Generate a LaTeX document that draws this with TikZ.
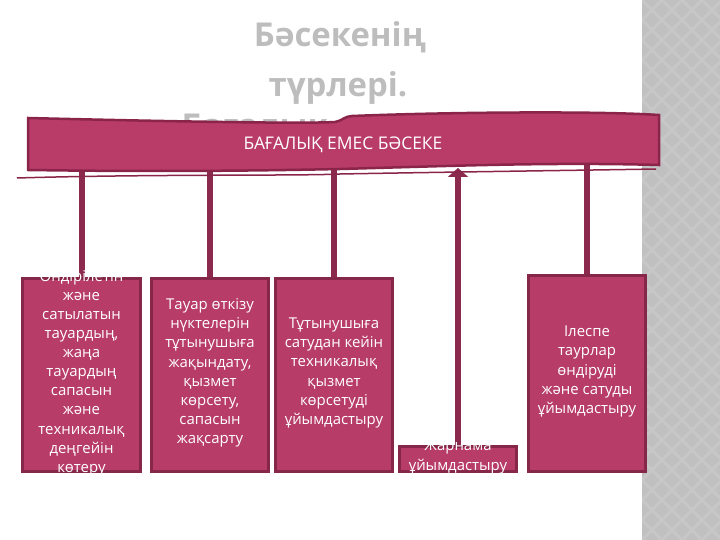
\documentclass[tikz,border=0pt]{standalone}
\usepackage{fontspec}
\setmainfont{Open Sans}
\usetikzlibrary{arrows.meta}
\definecolor{bandfill}{HTML}{B93C68}
\definecolor{bandedge}{HTML}{8A2449}
\definecolor{boxfill}{HTML}{B73C67}
\definecolor{boxedge}{HTML}{862648}
\definecolor{linkcol}{HTML}{8C2A4E}
\definecolor{titlegray}{HTML}{BDBDBD}
\definecolor{stripgray}{HTML}{C0C0C0}
\definecolor{stripdiam}{HTML}{C7C7C7}

\begin{document}
\begin{tikzpicture}[x=1bp, y=-1bp,
	box/.style={draw=boxedge, line width=3bp, fill=boxfill, minimum width=117bp, inner sep=0pt},
	boxtext/.style={white, font=\fontsize{15}{19.2}\selectfont, align=center, inner sep=0pt},
	headtext/.style={titlegray, font=\fontsize{33}{50}\selectfont\bfseries},
	link/.style={draw=linkcol, line width=6bp}]
	\useasboundingbox (0,0) rectangle (720,540);

	% grey strip on the right
	\fill[stripgray] (642,0) rectangle (720,540);
	\begin{scope}
		\clip (642,0) rectangle (720,540);
		\foreach \k in {-4,...,30}
		{
			\draw[stripdiam, line width=3bp] (642,\k*20) -- ++(80,80);
			\draw[stripdiam, line width=3bp] (642,\k*20) -- ++(80,-80);
		}
	\end{scope}

	% title
	\node[headtext, anchor=base] (title1) at (340,47) {Бәсекенің};
	\node[headtext, anchor=base] (title2) at (338,97) {түрлері.};
	\node[headtext, anchor=base west] (title3) at (178,138) {Бағалық};

	% boxes
	\node[box, minimum height=193bp] (b1) at (81.5,375) {};
	\node[box, minimum height=193bp] (b2) at (210,375) {};
	\node[box, minimum height=193bp] (b3) at (334,375) {};
	\node[box, minimum height=25bp] (b4) at (458,459) {};
	\node[box, minimum height=196bp] (b5) at (587,373.5) {};

	\coordinate (top) at (0,150);
	\coordinate (bb) at (0,168);

	% connectors
	\draw[link] (b1.north |- top) -- (b1.north);
	\draw[link] (b2.north |- top) -- (b2.north);
	\draw[link] (b3.north |- top) -- (b3.north);
	\draw[link] (b5.north |- top) -- (b5.north);
	\draw[link, -{Triangle[width=20bp, length=9bp]}] (b4.north) -- (b4.north |- bb);

	% banner
	\draw[bandedge, line width=1.5bp] (17,178) .. controls (150,174) and (300,176) .. (340,174)
		.. controls (450,172) and (600,170) .. (656,169);
	\draw[draw=bandedge, fill=bandfill, line width=2.5bp] (28,118) .. controls (150,121) and (300,124) .. (335,122)
		.. controls (342,121) and (345,116) .. (352,116)
		.. controls (450,112) and (600,111) .. (659,115) -- (659,165)
		.. controls (550,162) and (450,166) .. (340,169)
		.. controls (200,172) and (100,171) .. (28,170) -- cycle;
	\node[white, font=\fontsize{17.5}{19}\selectfont] (banner) at (343,145) {БАҒАЛЫҚ ЕМЕС БӘСЕКЕ};

	% box texts
	\node[boxtext] (t1) at (b1.center) [yshift=2bp] {Өндірілетін\\және\\сатылатын\\тауардың,\\жаңа\\тауардың\\сапасын\\және\\техникалық\\деңгейін\\көтеру};
	\node[boxtext] (t2) at (b2.center) [yshift=2bp] {Тауар өткізу\\нүктелерін\\тұтынушыға\\жақындату,\\қызмет\\көрсету,\\сапасын\\жақсарту};
	\node[boxtext] (t3) at (b3.center) [yshift=2bp] {Тұтынушыға\\сатудан кейін\\техникалық\\қызмет\\көрсетуді\\ұйымдастыру};
	\node[boxtext] (t4) at (b4.center) [yshift=2bp] {Жарнама\\ұйымдастыру};
	\node[boxtext] (t5) at (b5.center) [yshift=2bp] {Ілеспе\\таурлар\\өндіруді\\және сатуды\\ұйымдастыру};
\end{tikzpicture}
\end{document}
